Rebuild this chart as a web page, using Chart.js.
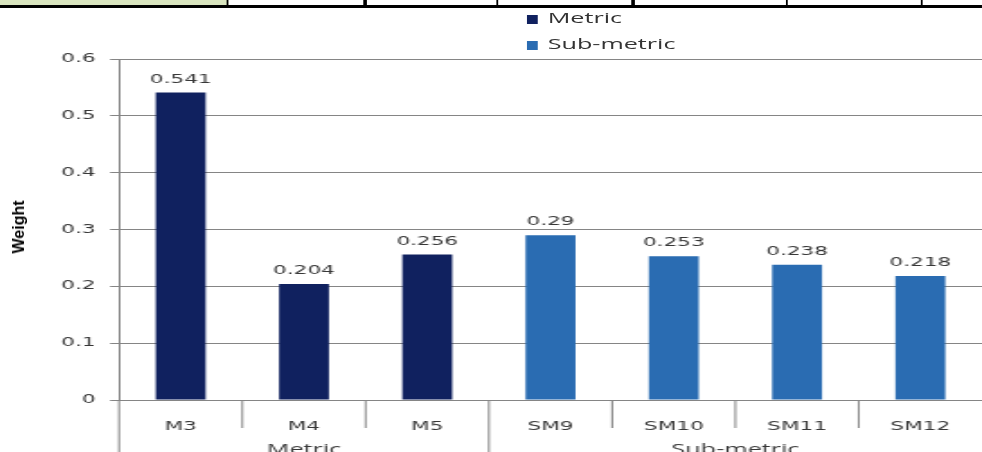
<!DOCTYPE html>
<html lang="en">
<head>
    <meta charset="UTF-8">
    <title>Metric and sub-metric weights</title>
    <script src="https://cdn.jsdelivr.net/npm/chart.js"></script>
    <style>
        body {
            margin: 0;
            background: #fff;
            overflow: hidden;
        }
        /* the source screenshot is stretched sideways, so the whole chart is drawn narrow and scaled */
        #stage {
            position: absolute;
            left: 0;
            top: 0;
            width: 546px;
            height: 452px;
            transform: scaleX(1.7985);
            transform-origin: 0 0;
        }
        #tableRow {
            position: absolute;
            left: 0;
            top: 0;
            width: 546px;
            height: 5px;
            border-bottom: 3px solid #000;
        }
        #tableRow .cell {
            position: absolute;
            top: 0;
            height: 5px;
        }
        #tableRow .line {
            position: absolute;
            top: 0;
            height: 5px;
            width: 1.3px;
            background: #000;
        }
        #legend {
            position: absolute;
            left: 293px;
            top: 8px;
            font-family: "Open Sans", sans-serif;
            font-size: 14px;
            color: #333;
        }
        #legend div {
            height: 26px;
            line-height: 20px;
        }
        #legend span.box {
            display: inline-block;
            width: 5.5px;
            height: 9px;
            margin-right: 6px;
            vertical-align: -1px;
        }
        #sensor {
            position: absolute;
            left: 0;
            top: 0;
        }
        #ytitle {
            position: absolute;
            left: 19px;
            top: 227px;
            transform: translate(-50%, -50%) rotate(-90deg);
            font-family: "Liberation Sans Narrow", "Liberation Sans", sans-serif;
            font-weight: bold;
            font-size: 16px;
            color: #000;
            white-space: nowrap;
        }
    </style>
</head>
<body>

<div id="stage">
    <div id="tableRow"></div>
    <div id="legend"></div>
    <canvas id="sensor" width="546" height="452"></canvas>
</div>
<div id="ytitle">Weight</div>

<script>
    // chart data
    const categories = ['M3', 'M4', 'M5', 'SM9', 'SM10', 'SM11', 'SM12'];
    const metricValues = [0.541, 0.204, 0.256, null, null, null, null];
    const subMetricValues = [null, null, null, 0.29, 0.253, 0.238, 0.218];
    const seriesNames = ['Metric', 'Sub-metric'];
    const seriesColors = ['#10215f', '#2a6cb2'];

    // second axis row: group name, first and last category index
    const groupLabels = ['Metric', 'Sub-metric'];
    const groupFirst = [0, 3];
    const groupLast = [2, 6];

    // leftover table row above the chart (positions in unstretched px)
    const tableLines = [126.8, 203, 276.3, 352, 437.6, 512.7];

    const lineGrey = '#858585';
    const textGrey = '#383838';

    // table row
    const row = document.getElementById('tableRow');
    const green = document.createElement('div');
    green.className = 'cell';
    green.style.left = '0px';
    green.style.width = tableLines[0] + 'px';
    green.style.background = '#d9e5bf';
    row.appendChild(green);
    tableLines.forEach(x => {
        const l = document.createElement('div');
        l.className = 'line';
        l.style.left = (x - 0.6) + 'px';
        row.appendChild(l);
    });

    // legend, stacked vertically
    const legend = document.getElementById('legend');
    seriesNames.forEach((name, i) => {
        const item = document.createElement('div');
        item.innerHTML = '<span class="box" style="background:' + seriesColors[i] + '"></span>' + name;
        legend.appendChild(item);
    });

    // value labels over the bars
    const valueLabels = {
        id: 'valueLabels',
        afterDatasetsDraw(chart) {
            const ctx = chart.ctx;
            ctx.save();
            ctx.font = '12px "DejaVu Sans"';
            ctx.fillStyle = textGrey;
            ctx.textAlign = 'center';
            ctx.textBaseline = 'alphabetic';
            chart.data.datasets.forEach((ds, d) => {
                chart.getDatasetMeta(d).data.forEach((bar, i) => {
                    if (ds.data[i] === null) return;
                    ctx.fillText(String(ds.data[i]), bar.x, bar.y - 10);
                });
            });
            ctx.restore();
        }
    };

    // category separators and group row under the x axis
    const groupAxis = {
        id: 'groupAxis',
        afterDraw(chart) {
            const ctx = chart.ctx;
            const x = chart.scales.x;
            const base = chart.chartArea.bottom;
            const half = (x.getPixelForValue(1) - x.getPixelForValue(0)) / 2;
            ctx.save();
            ctx.strokeStyle = lineGrey;
            ctx.lineWidth = 1;
            for (let i = 0; i < categories.length; i++) {
                const edge = x.getPixelForValue(i) - half;
                const isGroupEdge = groupFirst.includes(i);
                ctx.beginPath();
                ctx.moveTo(edge, base);
                ctx.lineTo(edge, isGroupEdge ? chart.height : base + 28);
                ctx.stroke();
            }
            ctx.font = '14px "Open Sans"';
            ctx.fillStyle = textGrey;
            ctx.textAlign = 'center';
            ctx.textBaseline = 'alphabetic';
            groupLabels.forEach((g, k) => {
                const cx = (x.getPixelForValue(groupFirst[k]) + x.getPixelForValue(groupLast[k])) / 2;
                ctx.fillText(g, cx, base + 54);
            });
            ctx.restore();
        }
    };

    const ctx = document.getElementById('sensor').getContext('2d');
    const weightChart = new Chart(ctx, {
        type: 'bar',
        data: {
            labels: categories,
            datasets: [{
                label: seriesNames[0],
                data: metricValues,
                backgroundColor: seriesColors[0],
                borderWidth: 0,
            }, {
                label: seriesNames[1],
                data: subMetricValues,
                backgroundColor: seriesColors[1],
                borderWidth: 0,
            }]
        },
        options: {
            responsive: false,
            animation: false,
            devicePixelRatio: 1,
            layout: {
                padding: { top: 59, left: 0, right: 0, bottom: 0 }
            },
            datasets: {
                bar: {
                    grouped: false,
                    barPercentage: 0.405,
                    categoryPercentage: 1
                }
            },
            plugins: {
                legend: { display: false },
                tooltip: { enabled: false }
            },
            scales: {
                x: {
                    afterFit: s => { s.height = 52; },
                    grid: { display: false },
                    border: { display: true, color: lineGrey, width: 1 },
                    ticks: {
                        padding: 12,
                        color: textGrey,
                        font: { family: 'DejaVu Sans', size: 12 },
                        maxRotation: 0
                    }
                },
                y: {
                    min: 0,
                    max: 0.6,
                    afterFit: s => { s.width = 66.2; },
                    grid: {
                        color: lineGrey,
                        tickColor: lineGrey,
                        tickLength: 5,
                        lineWidth: 1
                    },
                    border: { display: true, color: lineGrey, width: 1 },
                    ticks: {
                        stepSize: 0.1,
                        padding: 8,
                        color: textGrey,
                        font: { family: 'DejaVu Sans', size: 12 },
                        callback: v => v === 0 ? '0' : v.toFixed(1)
                    }
                }
            }
        },
        plugins: [valueLabels, groupAxis]
    });
</script>

</body>
</html>
